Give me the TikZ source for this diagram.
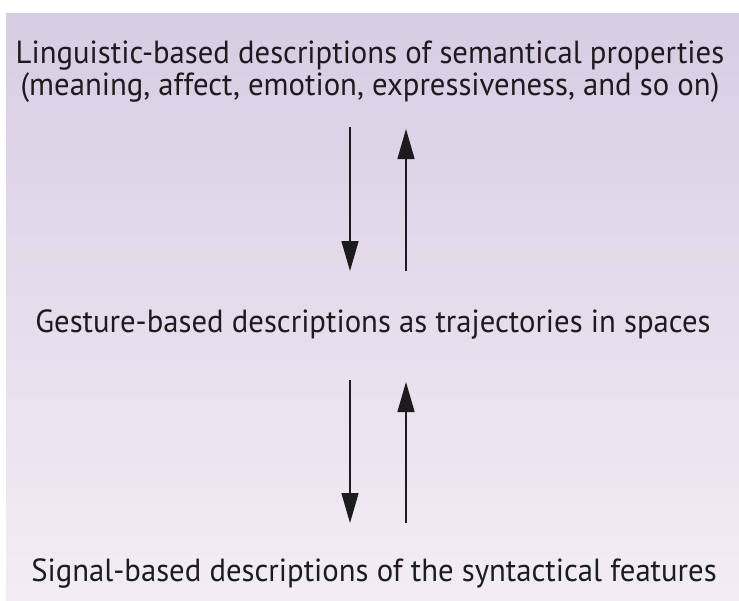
\documentclass[tikz,border=0pt]{standalone}
\usepackage{fontspec}
\setmainfont{PT Sans}
\usetikzlibrary{arrows.meta}
\definecolor{bgtop}{RGB}{216,204,227}
\definecolor{bgbot}{RGB}{242,237,245}
\definecolor{ink}{RGB}{30,27,30}
\tikzset{
  txt/.style={text=ink, font=\fontsize{32}{32}\selectfont, align=center, inner sep=0pt, anchor=base, transform shape, xscale=0.96},
  arr/.style={draw=ink, line width=1.5pt, -{Triangle[length=30pt,width=17pt]}}
}
\begin{document}
\begin{tikzpicture}[x=1pt,y=-1pt]
\useasboundingbox (0,0) rectangle (739,600);
\fill[top color=bgtop, bottom color=bgbot] (6,13) rectangle (739,600);
\node[txt] (ling) at (370,95) {Linguistic-based descriptions of semantical properties\\(meaning, affect, emotion, expressiveness, and so on)};
\node[txt] (gest) at (373,332) {Gesture-based descriptions as trajectories in spaces};
\node[txt] (sig) at (374,581) {Signal-based descriptions of the syntactical features};
\coordinate (d1s) at (350,127);
\coordinate (d1e) at (350,271);
\coordinate (u1s) at (406,271);
\coordinate (u1e) at (406,129);
\coordinate (d2s) at (350,380);
\coordinate (d2e) at (350,523);
\coordinate (u2s) at (406,523);
\coordinate (u2e) at (406,382);
\draw[arr] (d1s) -- (d1e);
\draw[arr] (u1s) -- (u1e);
\draw[arr] (d2s) -- (d2e);
\draw[arr] (u2s) -- (u2e);
\end{tikzpicture}
\end{document}
